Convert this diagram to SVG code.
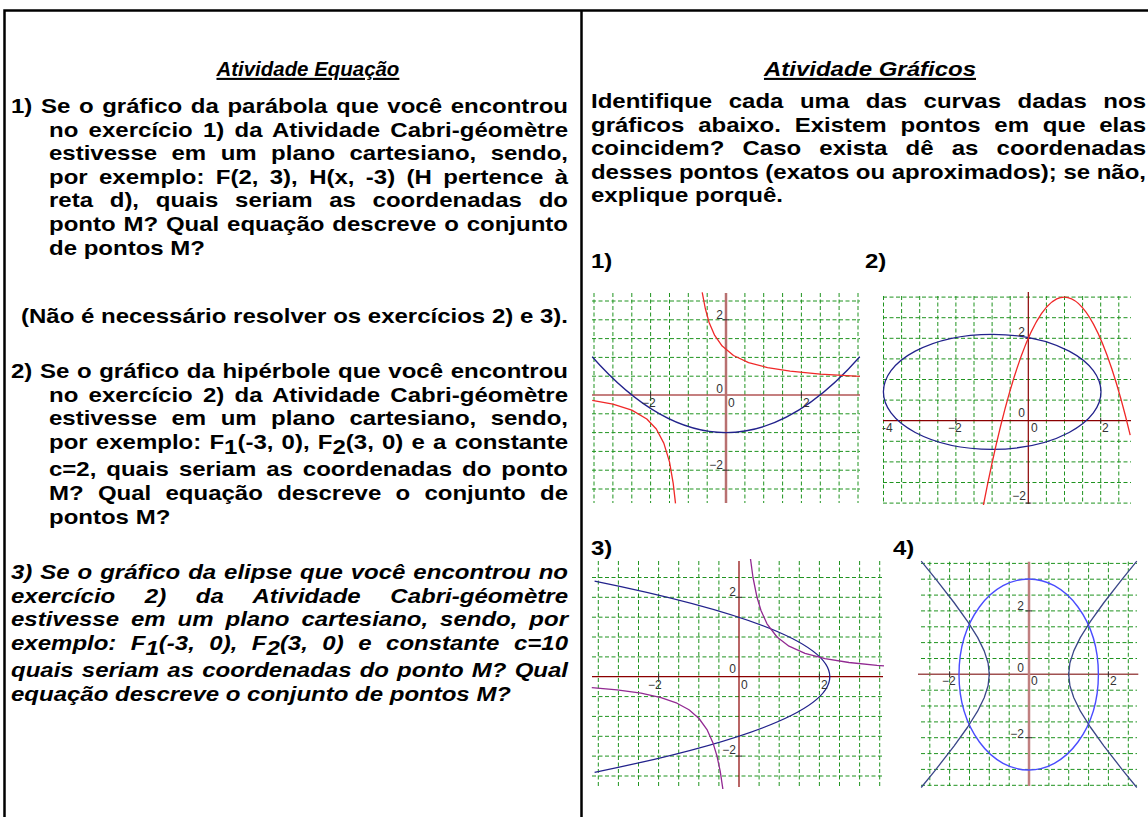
<svg xmlns="http://www.w3.org/2000/svg" width="1148" height="817" viewBox="0 0 1148 817">
<style>
.t{font-family:"Liberation Sans",Arial,sans-serif;font-size:21px;font-weight:bold;fill:#000}
.i{font-style:italic}
.u{text-decoration:underline}
.grid{fill:none;stroke:#1f931f;stroke-width:1;stroke-dasharray:4 2.5}
.ax{stroke:#8b0000;stroke-width:1.2;fill:none}
.axp{stroke:#b87070;stroke-width:2.5;fill:none}
.lb{font-family:"Liberation Sans",Arial,sans-serif;font-size:12px;fill:#333}
.tk{stroke:#333;stroke-width:1;fill:none}
.red{fill:none;stroke:#f02828;stroke-width:1.3;stroke-linejoin:round}
.navy{fill:none;stroke:#22228c;stroke-width:1.3;stroke-linejoin:round}
.pur{fill:none;stroke:#922a92;stroke-width:1.3;stroke-linejoin:round}
.blue{fill:none;stroke:#4a4cff;stroke-width:1.4}
.slate{fill:none;stroke:#3a4688;stroke-width:1.3;stroke-linejoin:round}
</style>
<defs>
<clipPath id="c1"><rect x="591" y="291" width="270" height="214"/></clipPath>
<clipPath id="c2"><rect x="882" y="290" width="250" height="215"/></clipPath>
<clipPath id="c3"><rect x="590" y="559" width="295" height="230"/></clipPath>
<clipPath id="c4"><rect x="918" y="559" width="222" height="230"/></clipPath>
</defs>
<rect width="1148" height="817" fill="#fff"/>
<g id="frame"><path d="M4.5 817V10.5H1148M581.5 10.5V817" stroke="#000" stroke-width="2.5" fill="none"/></g>

<g id="left-column" transform="scale(1.143 1)">
<text class="t i u" x="189.4" y="76" textLength="160" lengthAdjust="spacingAndGlyphs">Atividade Equação</text>
<text class="t" x="9.62" y="113" word-spacing="1.7" textLength="487.31" lengthAdjust="spacing">1) Se o gráfico da parábola que você encontrou</text>
<text class="t" x="42.87" y="136.6" word-spacing="3.06" textLength="454.07" lengthAdjust="spacing">no exercício 1) da Atividade Cabri-géomètre</text>
<text class="t" x="42.87" y="160.2" word-spacing="6.79" textLength="454.07" lengthAdjust="spacing">estivesse em um plano cartesiano, sendo,</text>
<text class="t" x="42.87" y="183.8" word-spacing="4.11" textLength="454.07" lengthAdjust="spacing">por exemplo: F(2, 3), H(x, -3) (H pertence à</text>
<text class="t" x="42.87" y="207.4" word-spacing="8.78" textLength="454.07" lengthAdjust="spacing">reta d), quais seriam as coordenadas do</text>
<text class="t" x="42.87" y="231" word-spacing="1" textLength="454.07" lengthAdjust="spacing">ponto M? Qual equação descreve o conjunto</text>
<text class="t" x="42.87" y="254.6">de pontos M?</text>
<text class="t" x="18.37" y="323">(Não é necessário resolver os exercícios 2) e 3).</text>
<text class="t" x="9.62" y="378" word-spacing="0.82" textLength="487.31" lengthAdjust="spacing">2) Se o gráfico da hipérbole que você encontrou</text>
<text class="t" x="42.87" y="401.6" word-spacing="3.06" textLength="454.07" lengthAdjust="spacing">no exercício 2) da Atividade Cabri-géomètre</text>
<text class="t" x="42.87" y="425.2" word-spacing="6.79" textLength="454.07" lengthAdjust="spacing">estivesse em um plano cartesiano, sendo,</text>
<text class="t" x="42.87" y="448.8" word-spacing="1.33" textLength="454.07" lengthAdjust="spacing">por exemplo: F<tspan dy="5">1</tspan><tspan dy="-5">(-3, 0), F</tspan><tspan dy="5">2</tspan><tspan dy="-5">(3, 0) e a constante</tspan></text>
<text class="t" x="42.87" y="476.5" word-spacing="2.85" textLength="454.07" lengthAdjust="spacing">c=2, quais seriam as coordenadas do ponto</text>
<text class="t" x="42.87" y="500.1" word-spacing="6.63" textLength="454.07" lengthAdjust="spacing">M? Qual equação descreve o conjunto de</text>
<text class="t" x="42.87" y="523.7">pontos M?</text>
<text class="t i" x="9.62" y="579" word-spacing="1.12" textLength="487.31" lengthAdjust="spacing">3) Se o gráfico da elipse que você encontrou no</text>
<text class="t i" x="9.62" y="602.6" word-spacing="20" textLength="487.31" lengthAdjust="spacing">exercício 2) da Atividade Cabri-géomètre</text>
<text class="t i" x="9.62" y="626.2" word-spacing="4.6" textLength="487.31" lengthAdjust="spacing">estivesse em um plano cartesiano, sendo, por</text>
<text class="t i" x="9.62" y="649.8" word-spacing="6.85" textLength="487.31" lengthAdjust="spacing">exemplo: F<tspan dy="5">1</tspan><tspan dy="-5">(-3, 0), F</tspan><tspan dy="5">2</tspan><tspan dy="-5">(3, 0) e constante c=10</tspan></text>
<text class="t i" x="9.62" y="677.5" word-spacing="1.28" textLength="487.31" lengthAdjust="spacing">quais seriam as coordenadas do ponto M? Qual</text>
<text class="t i" x="9.62" y="701.1">equação descreve o conjunto de pontos M?</text>
</g>

<g id="right-column" transform="scale(1.143 1)">
<text class="t i u" x="761.15" y="76" text-anchor="middle">Atividade Gráficos</text>
<text class="t" x="517.06" y="108" word-spacing="8.62" textLength="485.56" lengthAdjust="spacing">Identifique cada uma das curvas dadas nos</text>
<text class="t" x="517.06" y="131.6" word-spacing="6.24" textLength="485.56" lengthAdjust="spacing">gráficos abaixo. Existem pontos em que elas</text>
<text class="t" x="517.06" y="155.2" word-spacing="10.06" textLength="485.56" lengthAdjust="spacing">coincidem? Caso exista dê as coordenadas</text>
<text class="t" x="517.06" y="178.8" textLength="485.56" lengthAdjust="spacing">desses pontos (exatos ou aproximados); se não,</text>
<text class="t" x="517.06" y="202.4">explique porquê.</text>
<text class="t" x="517.06" y="268">1)</text>
<text class="t" x="756.78" y="268">2)</text>
<text class="t" x="517.06" y="555">3)</text>
<text class="t" x="781.28" y="555">4)</text>
</g>

<g id="graph1" clip-path="url(#c1)">
<path class="grid" d="M594 293V503M612.9 293V503M631.8 293V503M650.6 293V503M669.5 293V503M688.3 293V503M707.2 293V503M744.9 293V503M763.7 293V503M782.6 293V503M801.4 293V503M820.3 293V503M839.1 293V503M858 293V503"/>
<path class="grid" d="M592 301H860M592 319.8H860M592 338.6H860M592 357.4H860M592 376.2H860M592 413.8H860M592 432.6H860M592 451.4H860M592 470.2H860M592 489H860"/>
<path class="ax" d="M592 395H860"/>
<path class="axp" d="M726 293V503"/>
<path class="tk" d="M650.6 392V398M801.4 392V398M723 319.8H729M723 470.2H729"/>
<path class="navy" d="M592.2 356.8Q726 508.4 859.8 356.8"/>
<polyline class="red" points="702.2,292.4 705.3,308.5 709,322.2 714.7,335.4 722.2,346.1 733.5,355.5 748.6,362.6 767.5,367.6 790.1,371.2 820.3,374.1 859.8,376.3"/>
<polyline class="red" points="592.2,400.3 612.9,404.1 631.8,410.1 646.8,419 656.3,429 663.8,443.1 669.5,461.9 673.2,483.4 675.5,503.4"/>
<text class="lb" x="723" y="319" text-anchor="end">2</text>
<text class="lb" x="723" y="393" text-anchor="end">0</text>
<text class="lb" x="728" y="407">0</text>
<text class="lb" x="642" y="407">−2</text>
<text class="lb" x="803" y="407">2</text>
<text class="lb" x="723" y="469" text-anchor="end">−2</text>
</g>

<g id="graph2" clip-path="url(#c2)">
<path class="grid" d="M883.5 296V504M901.6 296V504M919.7 296V504M937.8 296V504M955.9 296V504M974 296V504M992.1 296V504M1010.2 296V504M1046.4 296V504M1064.5 296V504M1082.6 296V504M1100.7 296V504M1118.8 296V504"/>
<path class="grid" d="M883 297.1H1131M883 317.7H1131M883 338.3H1131M883 358.9H1131M883 379.5H1131M883 400.1H1131M883 441.3H1131M883 461.9H1131M883 482.5H1131M883 503.1H1131"/>
<path class="ax" d="M883 420.7H1131M1028.3 292V504"/>
<path class="tk" d="M955.9 417.7V423.7M1100.7 417.7V423.7M1025.3 338.3H1031.3M1025.3 503.1H1031.3"/>
<ellipse class="navy" cx="992.2" cy="391.8" rx="108.8" ry="57.5"/>
<path class="red" d="M983.3 505.7Q1056.7 127.5 1130.2 435.1"/>
<text class="lb" x="1025" y="336" text-anchor="end">2</text>
<text class="lb" x="1025" y="417" text-anchor="end">0</text>
<text class="lb" x="1031" y="432">0</text>
<text class="lb" x="882" y="432">-4</text>
<text class="lb" x="948" y="432">−2</text>
<text class="lb" x="1102" y="432">2</text>
<text class="lb" x="1026" y="500" text-anchor="end">−2</text>
</g>

<g id="graph3" clip-path="url(#c3)">
<path class="grid" d="M598.3 561V787M618.4 561V787M638.5 561V787M658.6 561V787M678.7 561V787M698.8 561V787M718.9 561V787M759.1 561V787M779.2 561V787M799.3 561V787M819.4 561V787M839.5 561V787M859.6 561V787M879.7 561V787"/>
<path class="grid" d="M592 577.5H883M592 597.3H883M592 617.2H883M592 637H883M592 656.9H883M592 696.6H883M592 716.4H883M592 736.3H883M592 756.1H883M592 776H883"/>
<path class="ax" d="M592 676.7H883M739 561V787"/>
<path class="tk" d="M658.6 673.7V679.7M819.4 673.7V679.7M736 597.3H742M736 756.1H742"/>
<path class="navy" d="M594.6 581.1Q1065 676.7 594.6 772.3"/>
<polyline class="pur" points="750.4,558.2 753,577.5 757,597.3 761,610.5 767,623.8 777,637 789,646.2 805,653.3 825,658.7 849,662.5 877,665.4 884,665.8"/>
<polyline class="pur" points="591.8,687.6 617,689.9 641,693.2 661,697.6 677,703.2 689,709.8 699,718.5 707,729.6 713,742.9 717,756.1 720.2,771.2 722.4,785.8 723,790.1"/>
<text class="lb" x="736" y="596" text-anchor="end">2</text>
<text class="lb" x="736" y="673" text-anchor="end">0</text>
<text class="lb" x="741" y="689">0</text>
<text class="lb" x="648" y="689">−2</text>
<text class="lb" x="821" y="689">2</text>
<text class="lb" x="736" y="754" text-anchor="end">−2</text>
</g>

<g id="graph4" clip-path="url(#c4)">
<path class="grid" d="M929.8 561.7V786M949.6 561.7V786M969.5 561.7V786M989.3 561.7V786M1009.2 561.7V786M1048.9 561.7V786M1068.7 561.7V786M1088.6 561.7V786M1108.4 561.7V786M1128.3 561.7V786"/>
<path class="grid" d="M921 563.4H1137M921 579.2H1137M921 595.1H1137M921 610.9H1137M921 626.8H1137M921 642.6H1137M921 658.5H1137M921 690.2H1137M921 706H1137M921 721.9H1137M921 737.7H1137M921 753.6H1137M921 769.4H1137M921 785.3H1137"/>
<path class="ax" d="M915.7 674.3H1138.3" style="stroke:#a05050;stroke-width:1.5"/>
<path class="axp" d="M1029 561.7V786" style="stroke:#c08080"/>
<path class="tk" d="M949.6 671.3V677.3M1108.4 671.3V677.3M1026 610.9H1032M1026 737.7H1032"/>
<ellipse class="blue" cx="1028.7" cy="674.5" rx="69.7" ry="95.5"/>
<polyline class="slate" points="1136.8,561.1 1122.4,578.8 1104,602.5 1090.3,621.6 1080.4,637.4 1073.8,650.9 1069.9,663 1068.7,674.3 1069.9,685.6 1073.8,697.7 1080.4,711.2 1090.3,727 1104,746.1 1122.4,769.8 1136.8,787.5"/>
<polyline class="slate" points="921.2,561.1 935.6,578.8 954,602.5 967.7,621.6 977.6,637.4 984.2,650.9 988.1,663 989.3,674.3 988.1,685.6 984.2,697.7 977.6,711.2 967.7,727 954,746.1 935.6,769.8 921.2,787.5"/>
<text class="lb" x="1024" y="610" text-anchor="end">2</text>
<text class="lb" x="1024" y="672" text-anchor="end">0</text>
<text class="lb" x="1031" y="685">0</text>
<text class="lb" x="942" y="685">−2</text>
<text class="lb" x="1110" y="685">2</text>
<text class="lb" x="1024" y="738" text-anchor="end">−2</text>
</g>
</svg>
